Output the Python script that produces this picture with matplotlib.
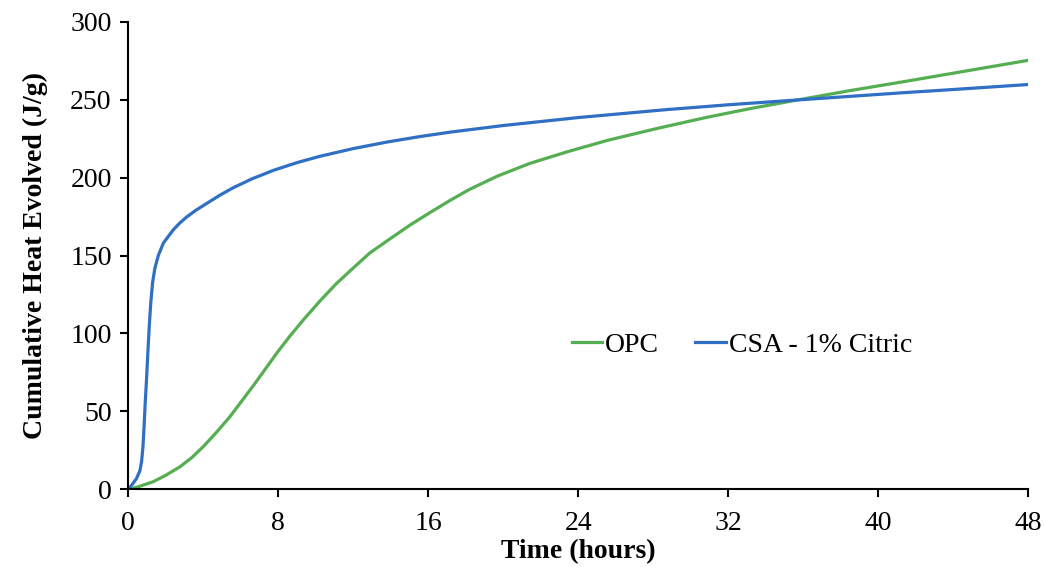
import numpy as np
import matplotlib
matplotlib.use("Agg")
import matplotlib.pyplot as plt

# values
opc_time = [0, 0.5, 1.33, 2.0, 2.76, 3.4, 4.0, 4.7, 5.42, 6.0, 6.67, 7.3, 7.91,
            8.6, 9.33, 10.2, 11.1, 12.0, 12.9, 14.0, 15.0, 16.1, 17.2, 18.2,
            19.7, 21.4, 23.4, 25.6, 28.2, 30.8, 33.2, 35.7, 38.5, 41.4, 44.6, 48]
opc_heat = [0, 1.5, 4.9, 9, 14.5, 20.5, 27.4, 36.5, 46.6, 55.8, 66.5, 77, 87.2,
            98, 108.6, 120.5, 132, 142, 151.8, 161, 169.3, 177.6, 185.6, 192.4,
            201, 209, 216.5, 224, 231.5, 238.5, 244.3, 249.8, 255.8, 261.6, 268.2, 275.2]

csa_time = [0, 0.2, 0.44, 0.62, 0.71, 0.78, 0.84, 0.9, 0.97, 1.04, 1.12, 1.2,
            1.3, 1.42, 1.6, 1.87, 2.4, 2.75, 3.11, 3.6, 4.18, 4.9, 5.6, 6.6,
            7.73, 9.0, 10.2, 12.0, 13.8, 15.5, 17.2, 20, 24, 28.7, 32, 35.7,
            41.4, 44, 48]
csa_heat = [0, 3, 7, 12, 18, 27, 40, 55, 70, 87, 105, 120,
            133, 142, 150, 158, 166.5, 170.9, 174.7, 179, 183.4, 188.8, 193.5, 199.2,
            204.6, 209.6, 213.6, 218.6, 222.8, 226.2, 229.2, 233.4, 238.5, 243.6, 246.7, 249.8,
            254.5, 256.5, 259.7]

x_ticks = [0, 8, 16, 24, 32, 40, 48]
y_ticks = [0, 50, 100, 150, 200, 250, 300]

plt.rcParams['font.family'] = ['Liberation Serif', 'DejaVu Serif']

fig = plt.figure(figsize=(10.44, 5.67), dpi=100)
ax = fig.add_axes([0.1229, 0.137, 0.8618, 0.8247])

ax.plot(opc_time, opc_heat, color='#55AF52', lw=2.3, label='OPC',
        solid_joinstyle='round')
ax.plot(csa_time, csa_heat, color='#2F6FC4', lw=2.3, label='CSA - 1% Citric',
        solid_joinstyle='round')

ax.set_xlim(0, 48)
ax.set_ylim(0, 300)
ax.set_xticks(x_ticks)
ax.set_yticks(y_ticks)

for side in ['top', 'right']:
    ax.spines[side].set_visible(False)
for side in ['left', 'bottom']:
    ax.spines[side].set_linewidth(1.5)
ax.tick_params(direction='out', length=6, width=1.5, labelsize=20)
ax.tick_params(axis='x', pad=9.5)
ax.tick_params(axis='y', pad=6)

ax.set_xlabel('Time (hours)', fontsize=20, fontweight='bold', labelpad=2)
ax.set_ylabel('Cumulative Heat Evolved (J/g)', fontsize=20, fontweight='bold', labelpad=16)

ax.legend(loc='center', bbox_to_anchor=(0.682, 0.309), ncol=2, frameon=False,
          fontsize=20, handlelength=1.1, handletextpad=0.1, columnspacing=1.3)

fig.savefig('out.png', dpi=100)
